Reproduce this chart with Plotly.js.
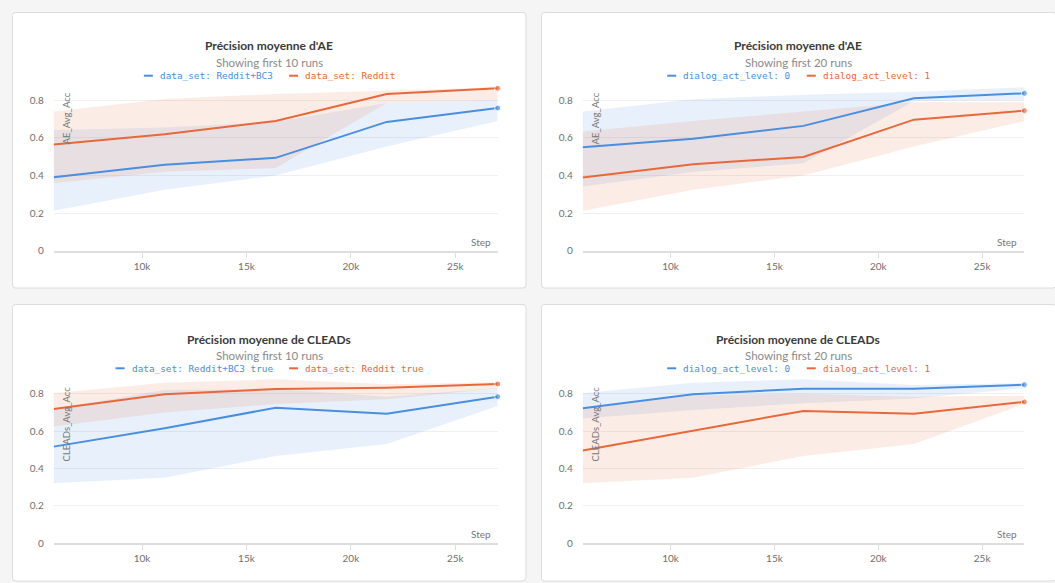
<!DOCTYPE html>
<html>
<head>
<meta charset="utf-8">
<script src="https://cdn.plot.ly/plotly-3.0.1.min.js"></script>
<style>
  html, body { margin: 0; padding: 0; background: #f5f5f5; }
  #chart { width: 1055px; height: 583px; }
</style>
</head>
<body>
<div id="chart"></div>
<script>
// ---------- DATA ----------
const steps = [5770, 11085, 16400, 21715, 27030];

const chartTitles = ["Précision moyenne d'AE", "Précision moyenne d'AE",
                     "Précision moyenne de CLEADs", "Précision moyenne de CLEADs"];
const chartSubtitles = ["Showing first 10 runs", "Showing first 20 runs",
                        "Showing first 10 runs", "Showing first 20 runs"];
const yTitles = ["AE_Avg_Acc", "AE_Avg_Acc", "CLEADs_Avg_Acc", "CLEADs_Avg_Acc"];
const xTitle = "Step";
const xTickVals = [10000, 15000, 20000, 25000];
const xTickText = ["10k", "15k", "20k", "25k"];
const yTickVals = [0, 0.2, 0.4, 0.6, 0.8];

// Panel 1 : AE, grouped by data_set
const p1Names = ["data_set: Reddit+BC3", "data_set: Reddit"];
const p1BlueMean = [0.391, 0.457, 0.494, 0.685, 0.759];
const p1BlueMin  = [0.212, 0.324, 0.400, 0.554, 0.690];
const p1BlueMax  = [0.642, 0.655, 0.685, 0.785, 0.800];
const p1OrangeMean = [0.565, 0.619, 0.690, 0.834, 0.864];
const p1OrangeMin  = [0.359, 0.420, 0.440, 0.785, 0.800];
const p1OrangeMax  = [0.740, 0.807, 0.834, 0.850, 0.870];

// Panel 2 : AE, grouped by dialog_act_level
const p2Names = ["dialog_act_level: 0", "dialog_act_level: 1"];
const p2BlueMean = [0.550, 0.596, 0.664, 0.811, 0.837];
const p2BlueMin  = [0.342, 0.418, 0.465, 0.796, 0.800];
const p2BlueMax  = [0.740, 0.805, 0.830, 0.846, 0.869];
const p2OrangeMean = [0.389, 0.460, 0.499, 0.697, 0.745];
const p2OrangeMin  = [0.212, 0.324, 0.400, 0.554, 0.690];
const p2OrangeMax  = [0.634, 0.690, 0.740, 0.790, 0.790];

// Panel 3 : CLEADs, grouped by data_set
const p3Names = ["data_set: Reddit+BC3 true", "data_set: Reddit true"];
const p3BlueMean = [0.517, 0.615, 0.725, 0.693, 0.784];
const p3BlueMin  = [0.321, 0.351, 0.467, 0.531, 0.734];
const p3BlueMax  = [0.720, 0.820, 0.825, 0.784, 0.830];
const p3OrangeMean = [0.718, 0.797, 0.825, 0.832, 0.852];
const p3OrangeMin  = [0.624, 0.699, 0.745, 0.770, 0.829];
const p3OrangeMax  = [0.802, 0.859, 0.877, 0.850, 0.861];

// Panel 4 : CLEADs, grouped by dialog_act_level
const p4Names = ["dialog_act_level: 0", "dialog_act_level: 1"];
const p4BlueMean = [0.722, 0.797, 0.827, 0.827, 0.848];
const p4BlueMin  = [0.668, 0.713, 0.749, 0.775, 0.830];
const p4BlueMax  = [0.802, 0.859, 0.877, 0.847, 0.856];
const p4OrangeMean = [0.496, 0.602, 0.708, 0.693, 0.756];
const p4OrangeMin  = [0.321, 0.351, 0.467, 0.531, 0.745];
const p4OrangeMax  = [0.720, 0.790, 0.800, 0.784, 0.790];

// ---------- STYLE / LAYOUT ----------
const W = 1055, H = 583;
const BLUE = "#4a8ee0", ORANGE = "#e8683a";
const BLUE_FILL = "rgba(74,142,224,0.125)", ORANGE_FILL = "rgba(232,104,58,0.125)";
const SANS = "Lato, 'Open Sans', sans-serif";
const MONO = "'DejaVu Sans Mono', 'Liberation Mono', monospace";

const geo = [
  {bx0: 12.5, by0: 12.5, bx1: 526, by1: 288, px0: 53.7, px1: 497.7, py0: 250.7, unit: 188, titleY: 45.7, subY: 62.3, legY: 75.7},
  {bx0: 541.5, by0: 12.5, bx1: 1056, by1: 288, px0: 582.7, px1: 1024.3, py0: 250.7, unit: 188, titleY: 45.7, subY: 62.3, legY: 75.7},
  {bx0: 12.5, by0: 304.5, bx1: 526, by1: 581, px0: 53.7, px1: 497.7, py0: 543.3, unit: 187, titleY: 339, subY: 355, legY: 368.3},
  {bx0: 541.5, by0: 304.5, bx1: 1056, by1: 581, px0: 582.7, px1: 1024.3, py0: 543.3, unit: 187, titleY: 339, subY: 355, legY: 368.3}
];

const panelsData = [
  {names: p1Names, blue: [p1BlueMean, p1BlueMin, p1BlueMax], orange: [p1OrangeMean, p1OrangeMin, p1OrangeMax]},
  {names: p2Names, blue: [p2BlueMean, p2BlueMin, p2BlueMax], orange: [p2OrangeMean, p2OrangeMin, p2OrangeMax]},
  {names: p3Names, blue: [p3BlueMean, p3BlueMin, p3BlueMax], orange: [p3OrangeMean, p3OrangeMin, p3OrangeMax]},
  {names: p4Names, blue: [p4BlueMean, p4BlueMin, p4BlueMax], orange: [p4OrangeMean, p4OrangeMin, p4OrangeMax]}
];

const fx = p => p / W;
const fy = p => 1 - p / H;
const Y_MAX = 0.9;

const traces = [];
const layout = {
  width: W, height: H,
  margin: {l: 0, r: 0, t: 0, b: 0},
  paper_bgcolor: "#f5f5f5",
  plot_bgcolor: "rgba(0,0,0,0)",
  showlegend: false,
  shapes: [],
  annotations: [],
  font: {family: SANS}
};

function roundedRectPath(x0, y0, x1, y1, r) {
  // pixel coords -> paper coords path
  const X = v => fx(v).toFixed(5), Y = v => fy(v).toFixed(5);
  return `M ${X(x0 + r)},${Y(y0)} L ${X(x1 - r)},${Y(y0)} Q ${X(x1)},${Y(y0)} ${X(x1)},${Y(y0 + r)} ` +
         `L ${X(x1)},${Y(y1 - r)} Q ${X(x1)},${Y(y1)} ${X(x1 - r)},${Y(y1)} ` +
         `L ${X(x0 + r)},${Y(y1)} Q ${X(x0)},${Y(y1)} ${X(x0)},${Y(y1 - r)} ` +
         `L ${X(x0)},${Y(y0 + r)} Q ${X(x0)},${Y(y0)} ${X(x0 + r)},${Y(y0)} Z`;
}

geo.forEach((g, i) => {
  const n = i + 1;
  const xa = "x" + (n === 1 ? "" : n), ya = "y" + (n === 1 ? "" : n);
  const xKey = "xaxis" + (n === 1 ? "" : n), yKey = "yaxis" + (n === 1 ? "" : n);
  const yTopPx = g.py0 - Y_MAX * g.unit;

  // panel card
  layout.shapes.push({
    type: "path", xref: "paper", yref: "paper", layer: "below",
    path: roundedRectPath(g.bx0, g.by0, g.bx1, g.by1, 3),
    fillcolor: "#ffffff", line: {color: "#dcdcdc", width: 1}
  });

  layout[xKey] = {
    domain: [fx(g.px0), fx(g.px1)], anchor: ya,
    range: [steps[0], steps[steps.length - 1]],
    tickvals: xTickVals, ticktext: xTickText,
    showgrid: false, zeroline: false,
    showline: true, linecolor: "#dedede", linewidth: 2,
    ticks: "outside", ticklen: 5, tickcolor: "#dedede", tickwidth: 1,
    tickfont: {family: SANS, size: 10, color: "#6e6e6e"},
    fixedrange: true
  };
  layout[yKey] = {
    domain: [fy(g.py0), fy(yTopPx)], anchor: xa,
    range: [0, Y_MAX],
    tickvals: yTickVals,
    showgrid: true, gridcolor: "#efefef", gridwidth: 1,
    zeroline: false, showline: false, ticks: "",
    ticklabelstandoff: 9,
    tickfont: {family: SANS, size: 10, color: "#6e6e6e"},
    fixedrange: true
  };

  const d = panelsData[i];
  const addBand = (minArr, maxArr, fillc) => {
    traces.push({x: steps, y: minArr, xaxis: xa, yaxis: ya, mode: "lines",
                 line: {width: 0, color: fillc}, hoverinfo: "skip", showlegend: false});
    traces.push({x: steps, y: maxArr, xaxis: xa, yaxis: ya, mode: "lines", fill: "tonexty",
                 fillcolor: fillc, line: {width: 0, color: fillc}, hoverinfo: "skip", showlegend: false});
  };
  addBand(d.blue[1], d.blue[2], BLUE_FILL);
  addBand(d.orange[1], d.orange[2], ORANGE_FILL);
  const endMarker = steps.map((s, k) => k === steps.length - 1 ? 6 : 0);
  traces.push({x: steps, y: d.blue[0], xaxis: xa, yaxis: ya, name: d.names[0],
               mode: "lines+markers", line: {color: BLUE, width: 2},
               marker: {color: BLUE, size: endMarker}, cliponaxis: false, hoverinfo: "skip"});
  traces.push({x: steps, y: d.orange[0], xaxis: xa, yaxis: ya, name: d.names[1],
               mode: "lines+markers", line: {color: ORANGE, width: 2},
               marker: {color: ORANGE, size: endMarker}, cliponaxis: false, hoverinfo: "skip"});

  const cx = (g.bx0 + Math.min(g.bx1, W)) / 2;
  // title + subtitle
  layout.annotations.push({
    xref: "paper", yref: "paper", x: fx(cx), y: fy(g.titleY), xanchor: "center", yanchor: "middle",
    text: "<b>" + chartTitles[i] + "</b>", showarrow: false, borderpad: 0,
    font: {family: SANS, size: 12, color: "#3a3a3a"}
  });
  layout.annotations.push({
    xref: "paper", yref: "paper", x: fx(cx), y: fy(g.subY), xanchor: "center", yanchor: "middle",
    text: chartSubtitles[i], showarrow: false, borderpad: 0,
    font: {family: SANS, size: 11.5, color: "#8a8a8a"}
  });

  // legend (dash + coloured monospace text)
  const cw = 5.66, dash = 9, gap = 6, itemGap = 17;
  const w1 = dash + gap + d.names[0].length * cw;
  const w2 = dash + gap + d.names[1].length * cw;
  let sx = cx - (w1 + itemGap + w2) / 2;
  [[d.names[0], BLUE, w1], [d.names[1], ORANGE, w2]].forEach(([nm, col, w]) => {
    layout.shapes.push({type: "line", xref: "paper", yref: "paper",
      x0: fx(sx), x1: fx(sx + dash), y0: fy(g.legY), y1: fy(g.legY),
      line: {color: col, width: 2}});
    layout.annotations.push({
      xref: "paper", yref: "paper", x: fx(sx + dash + gap), y: fy(g.legY),
      xanchor: "left", yanchor: "middle", text: nm, showarrow: false, borderpad: 0,
      font: {family: MONO, size: 9.4, color: col}
    });
    sx += w + itemGap;
  });

  // y-axis title inside plot (rotated)
  layout.annotations.push({
    xref: "paper", yref: "paper", x: fx(g.px0 + 13), y: fy(g.py0 - 0.8 * g.unit - 8.5),
    xanchor: "center", yanchor: "top", textangle: -90, text: yTitles[i], showarrow: false, borderpad: 0,
    font: {family: SANS, size: 9.5, color: "#777777"}
  });
  // x-axis title "Step"
  layout.annotations.push({
    xref: "paper", yref: "paper", x: fx(g.px1 - 6), y: fy(g.py0 - 9),
    xanchor: "right", yanchor: "middle", text: xTitle, showarrow: false, borderpad: 0,
    font: {family: SANS, size: 10, color: "#777777"}
  });
});

Plotly.newPlot("chart", traces, layout, {staticPlot: true, displayModeBar: false});
</script>
</body>
</html>
